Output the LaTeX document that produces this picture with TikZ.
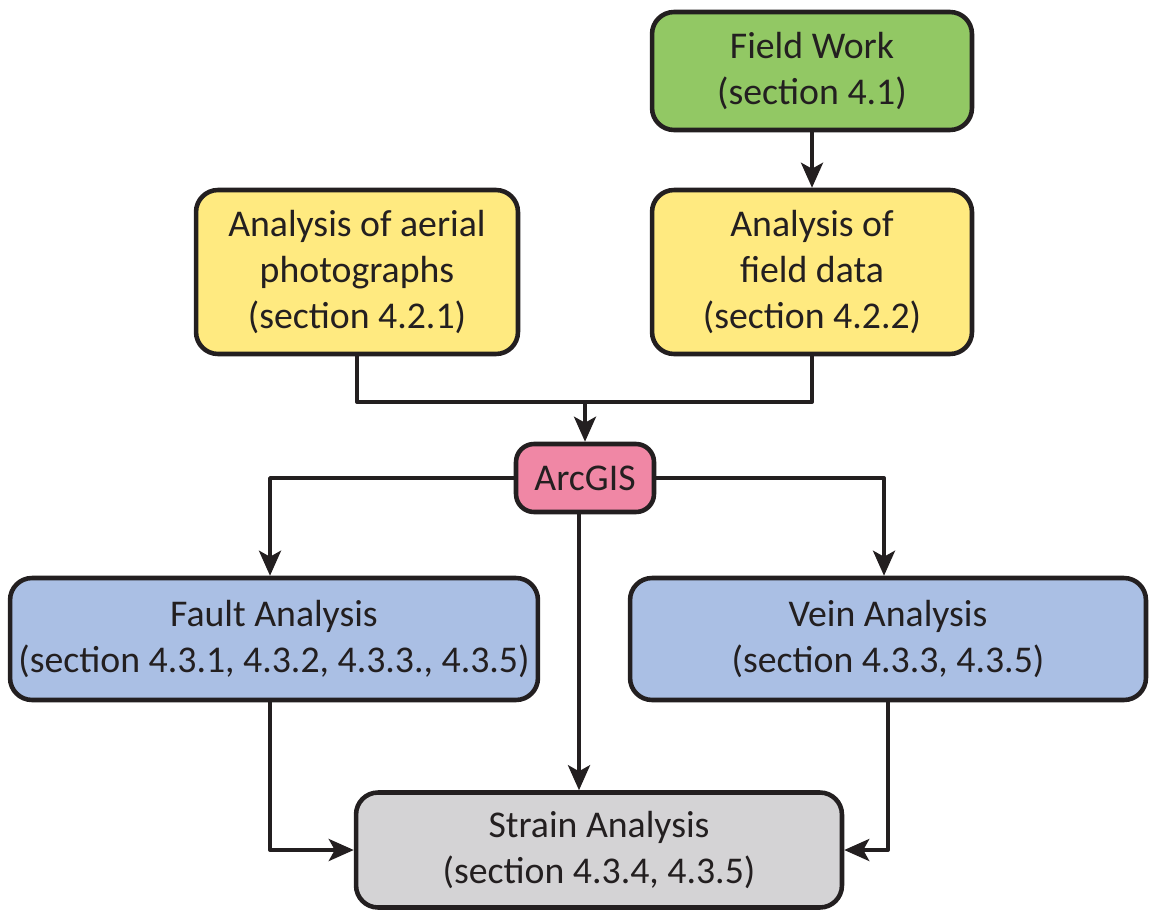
\documentclass[tikz,border=0pt]{standalone}
\usepackage{fontspec}
\setmainfont{Carlito}
\usetikzlibrary{arrows.meta}
\usetikzlibrary{positioning}
\usetikzlibrary{calc}

\definecolor{workgreen}{RGB}{146,200,100}
\definecolor{datayellow}{RGB}{255,234,128}
\definecolor{gispink}{RGB}{240,135,165}
\definecolor{faultblue}{RGB}{170,191,228}
\definecolor{strainGray}{RGB}{212,211,213}
\definecolor{inkdark}{RGB}{35,31,32}

\tikzset{
  stage/.style={draw=inkdark,line width=2.6pt,rounded corners=0.44cm,align=center,
    text=inkdark,font=\fontsize{21.5}{26}\selectfont,inner sep=0pt},
  flow/.style={draw=inkdark,line width=2.2pt}
}

\begin{document}
\begin{tikzpicture}[x=0.02cm,y=-0.02cm,line join=round,>={Stealth[length=5mm,width=4.4mm,inset=1.2mm]}]
\useasboundingbox (0,0) rectangle (1151,912);
% boxes
\node[stage,fill=workgreen,minimum width=6.4cm,minimum height=2.36cm] (work) at (812,71) {Field Work\\(section 4.1)};
\node[stage,fill=datayellow,minimum width=6.44cm,minimum height=3.28cm] (aerial) at (357,272) {Analysis of aerial\\photographs\\(section 4.2.1)};
\node[stage,fill=datayellow,minimum width=6.4cm,minimum height=3.28cm] (fielddata) at (812,272) {Analysis of\\field data\\(section 4.2.2)};
\node[stage,fill=gispink,minimum width=2.76cm,minimum height=1.36cm,rounded corners=0.36cm] (arcgis) at (585,478) {ArcGIS};
\node[stage,fill=faultblue,minimum width=10.56cm,minimum height=2.44cm] (fault) at (274,639) {Fault Analysis\\(section 4.3.1, 4.3.2, 4.3.3., 4.3.5)};
\node[stage,fill=faultblue,minimum width=10.32cm,minimum height=2.44cm] (vein) at (888,639) {Vein Analysis\\(section 4.3.3, 4.3.5)};
\node[stage,fill=strainGray,minimum width=9.72cm,minimum height=2.3cm] (strain) at (599,850) {Strain Analysis\\(section 4.3.4, 4.3.5)};
% connectors
\coordinate (join) at (585,402);
\draw[flow,->] (work) -- (fielddata);
\draw[flow] (aerial.south) |- (join);
\draw[flow] (fielddata.south) |- (join);
\draw[flow,->] (join) -- (arcgis);
\draw[flow,->] (arcgis.west) -| ($(fault.north)+(-4,0)$);
\draw[flow,->] (arcgis.east) -| ($(vein.north)+(-4,0)$);
\draw[flow,->] ($(arcgis.south)+(-6,0)$) -- ($(arcgis.south |- strain.north)+(-6,0)$);
\draw[flow,->] ($(fault.south)+(-4,0)$) |- (strain.west);
\draw[flow,->] (vein.south) |- (strain.east);
\end{tikzpicture}
\end{document}
